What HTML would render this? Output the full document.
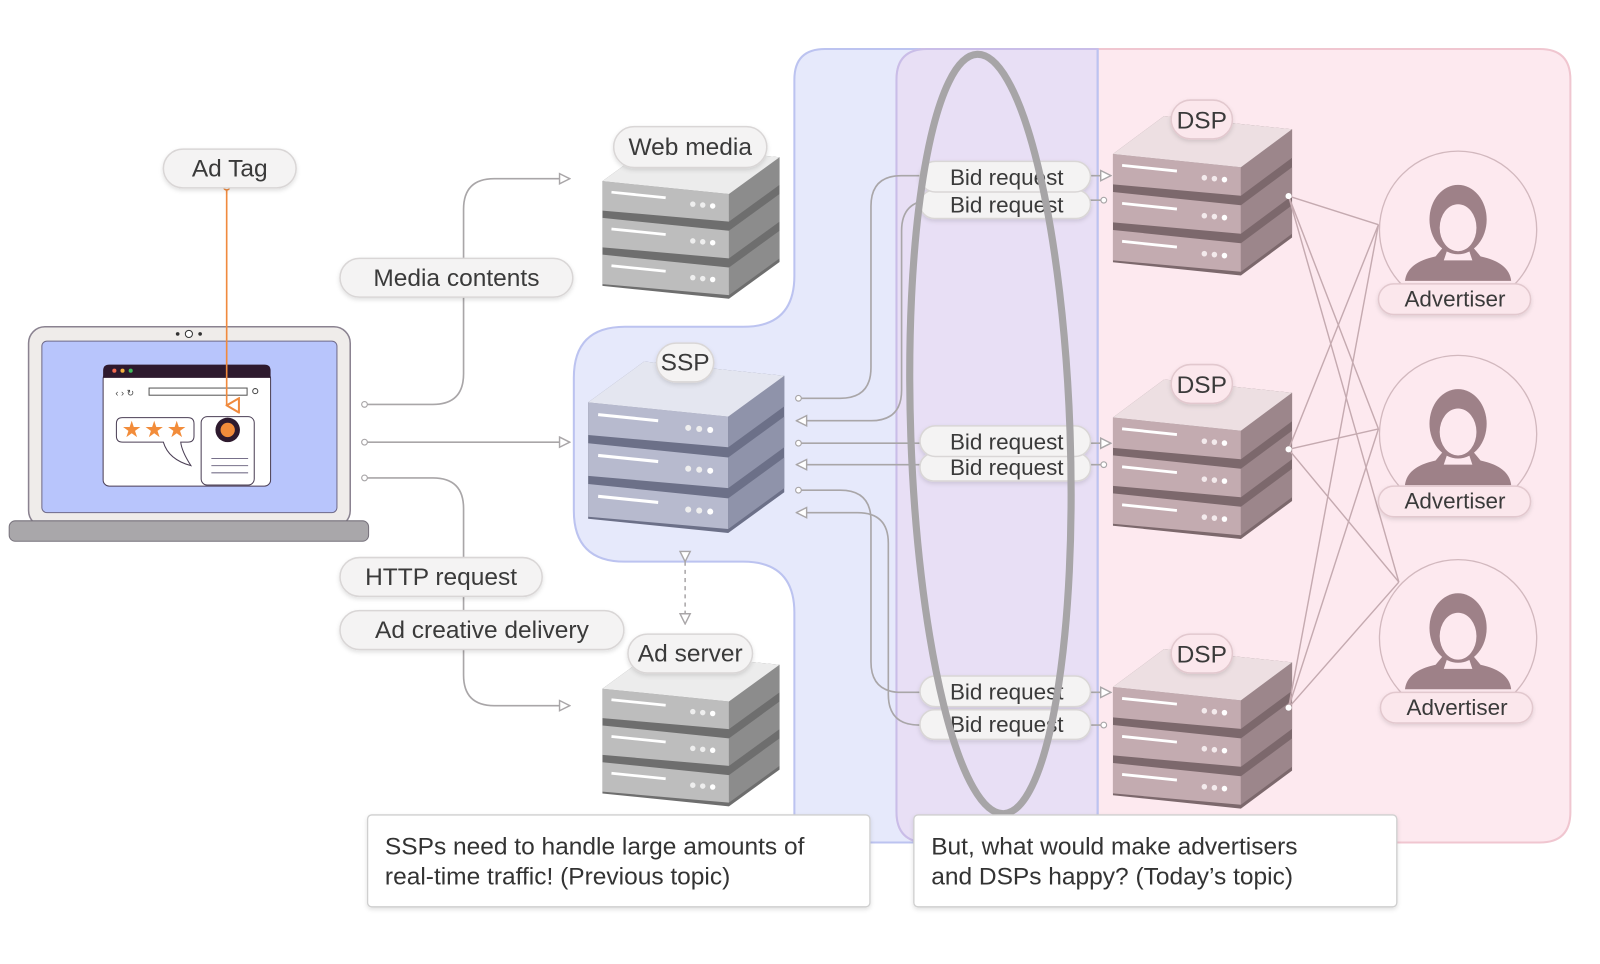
<!DOCTYPE html>
<html><head><meta charset="utf-8"><style>
html,body{margin:0;padding:0;background:#fff;}
svg{display:block;font-family:"Liberation Sans",sans-serif;}
.pl{fill:#f4f3f3;stroke:#d9d6d6;stroke-width:1.5;}
.lb{font-size:24px;fill:#3a3a3a;text-anchor:middle;}
.bl{font-size:22px;fill:#3a3a3a;text-anchor:middle;}
.cn{fill:none;stroke:#a9a6a8;stroke-width:1.6;}
.cp{fill:none;stroke:#c5aab0;stroke-width:1.4;}
</style></head><body>
<svg width="1600" height="964" viewBox="0 0 1567 944" preserveAspectRatio="none" xmlns="http://www.w3.org/2000/svg">
<defs>
<marker id="ar" viewBox="0 0 12 12" refX="11" refY="6" markerWidth="12" markerHeight="12" markerUnits="userSpaceOnUse" orient="auto"><path d="M1,1 L11,6 L1,11 Z" fill="#fff" stroke="#a9a6a8" stroke-width="1.4"/></marker>
<marker id="ci" viewBox="0 0 10 10" refX="5" refY="5" markerWidth="8" markerHeight="8" markerUnits="userSpaceOnUse"><circle cx="5" cy="5" r="3.5" fill="#fff" stroke="#a9a6a8" stroke-width="1.4"/></marker>
<marker id="ao" viewBox="0 0 16 14" refX="8" refY="13" markerWidth="16" markerHeight="14" markerUnits="userSpaceOnUse" orient="auto-start-reverse"><path d="M1,1 L15,1 L8,13 Z" fill="none" stroke="#f08a3e" stroke-width="2"/></marker>
<filter id="sh" x="-10%" y="-20%" width="120%" height="150%"><feDropShadow dx="0" dy="2" stdDeviation="2" flood-color="#000" flood-opacity="0.12"/></filter>
<g id="srvG">
<polygon points="0,46 56,6 196,20 196,134 140,174 0,160" fill="#6e6e6e"/>
<g id="uG0"><polygon points="0,46 140,60 140,90 0,78" fill="#bdbdbd"/><polygon points="140,60 196,20 196,50 140,90" fill="#8c8c8c"/><line x1="10" y1="58" x2="70" y2="64" stroke="#fff" stroke-width="3"/><circle cx="100" cy="71" r="3" fill="#eee"/><circle cx="111" cy="72" r="3" fill="#eee"/><circle cx="122" cy="73" r="3" fill="#fff"/></g>
<use href="#uG0" y="40"/><use href="#uG0" y="80"/>
<polygon points="0,46 56,6 196,20 140,60" fill="#ececec"/>
</g>
<g id="srvB">
<polygon points="0,46 56,6 196,20 196,134 140,174 0,160" fill="#6c7088"/>
<g id="uB0"><polygon points="0,46 140,60 140,90 0,78" fill="#b7bace"/><polygon points="140,60 196,20 196,50 140,90" fill="#8f93aa"/><line x1="10" y1="58" x2="70" y2="64" stroke="#fff" stroke-width="3"/><circle cx="100" cy="71" r="3" fill="#eee"/><circle cx="111" cy="72" r="3" fill="#eee"/><circle cx="122" cy="73" r="3" fill="#fff"/></g>
<use href="#uB0" y="40"/><use href="#uB0" y="80"/>
<polygon points="0,46 56,6 196,20 140,60" fill="#e4e6f0"/>
</g>
<g id="srvP">
<polygon points="0,46 56,6 196,20 196,134 140,174 0,160" fill="#7c686c"/>
<g id="uP0"><polygon points="0,46 140,60 140,90 0,78" fill="#c3abb0"/><polygon points="140,60 196,20 196,50 140,90" fill="#9c868b"/><line x1="10" y1="58" x2="70" y2="64" stroke="#fff" stroke-width="3"/><circle cx="100" cy="71" r="3" fill="#f3eaec"/><circle cx="111" cy="72" r="3" fill="#f3eaec"/><circle cx="122" cy="73" r="3" fill="#fff"/></g>
<use href="#uP0" y="40"/><use href="#uP0" y="80"/>
<polygon points="0,46 56,6 196,20 140,60" fill="#eddfe2"/>
</g>
<g id="av">
<circle cx="0" cy="0" r="77" fill="none" stroke="#d2b8be" stroke-width="1.3"/>
<path d="M-52,50 Q-50,32 -22,26 L-12,14 L12,14 L22,26 Q50,32 52,50 Z" fill="#9e8188"/>
<path d="M-10,18 H10 L14,30 H-14 Z" fill="#fde9ef"/>
<ellipse cx="0" cy="-10" rx="28" ry="34" fill="#9e8188"/>
<ellipse cx="0" cy="-2" rx="18" ry="23" fill="#fde9ef"/>
</g>
</defs>

<path d="M778,78 Q778,48 808,48 H1075 V825 H778 V600 Q778,550 728,550 H612 Q562,550 562,500 V370 Q562,320 612,320 H728 Q778,320 778,270 Z" fill="#e6e9fb" stroke="#bcc3f0" stroke-width="2"/>
<path d="M908,48 H1508 Q1538,48 1538,78 V795 Q1538,825 1508,825 H908 Q878,825 878,795 V78 Q878,48 908,48 Z" fill="#fde9ef" stroke="#f0c6d0" stroke-width="2"/>
<path d="M908,48 H1075 V825 H908 Q878,825 878,795 V78 Q878,48 908,48 Z" fill="#e8dff5" stroke="#c9bde8" stroke-width="2"/>
<line x1="1075" y1="48" x2="1075" y2="825" stroke="#bcc3f0" stroke-width="2"/>

<rect x="28" y="320" width="315" height="196" rx="16" fill="#efecea" stroke="#8a8290" stroke-width="1.5"/>
<rect x="41" y="334" width="289" height="168" rx="5" fill="#b8c5fc" stroke="#6f6a88" stroke-width="1"/>
<rect x="9" y="510" width="352" height="20" rx="6" fill="#a9a7aa" stroke="#77727c" stroke-width="1"/>
<circle cx="185" cy="327" r="3.5" fill="#fff" stroke="#333" stroke-width="1"/><circle cx="174" cy="327" r="1.8" fill="#333"/><circle cx="196" cy="327" r="1.8" fill="#333"/>
<rect x="101" y="365" width="164" height="111" rx="6" fill="#fff" stroke="#4b3f55" stroke-width="1"/>
<path d="M107,357 H259 Q265,357 265,363 V370 H101 V363 Q101,357 107,357 Z" fill="#2e1a2e"/>
<circle cx="112" cy="363" r="2" fill="#f26a4f"/><circle cx="120" cy="363" r="2" fill="#f4b13f"/><circle cx="128" cy="363" r="2" fill="#3fbb5a"/>
<text x="113" y="388" font-size="9" fill="#444">‹ › ↻</text>
<rect x="146" y="380" width="96" height="7" fill="none" stroke="#555" stroke-width="1"/>
<circle cx="250" cy="383" r="2.5" fill="none" stroke="#444" stroke-width="1"/>
<path d="M120,409 H184 Q190,409 190,415 V427 Q190,433 184,433 H177 Q178,442 187,456 Q165,450 160,433 H120 Q114,433 114,427 V415 Q114,409 120,409 Z" fill="#fff" stroke="#4b3f55" stroke-width="1"/>
<text x="129" y="428" font-size="22" fill="#f28c3a" text-anchor="middle">★</text><text x="151" y="428" font-size="22" fill="#f28c3a" text-anchor="middle">★</text><text x="173" y="428" font-size="22" fill="#f28c3a" text-anchor="middle">★</text>
<rect x="197" y="408" width="52" height="67" rx="6" fill="#fff" stroke="#4b3f55" stroke-width="1"/>
<circle cx="223" cy="421" r="12" fill="#2e1a2e"/><circle cx="223" cy="421" r="7" fill="#f28c3a"/>
<path d="M207,449 H243 M207,456 H243 M207,463 H243" stroke="#77708a" stroke-width="1"/>
<line x1="222" y1="183" x2="222" y2="397" stroke="#f08a3e" stroke-width="1.6" marker-end="url(#ao)"/>
<circle cx="222" cy="183" r="3" fill="#fff" stroke="#f08a3e" stroke-width="1.5"/>

<path class="cn" d="M357,396 H424 Q454,396 454,366 V205 Q454,175 484,175 H558" marker-start="url(#ci)" marker-end="url(#ar)"/>
<path class="cn" d="M357,433 H558" marker-start="url(#ci)" marker-end="url(#ar)"/>
<path class="cn" d="M357,468 H424 Q454,468 454,498 V661 Q454,691 484,691 H558" marker-start="url(#ci)" marker-end="url(#ar)"/>
<line x1="671" y1="550" x2="671" y2="611" stroke="#a9a6a8" stroke-width="1.5" stroke-dasharray="4,4" marker-start="url(#ar)" marker-end="url(#ar)"/>

<g filter="url(#sh)">
<rect class="pl" x="160" y="146" width="130" height="38" rx="19"/>
<rect class="pl" x="333" y="253" width="228" height="38" rx="19"/>
<rect class="pl" x="333" y="546" width="198" height="38" rx="19"/>
<rect class="pl" x="333" y="598" width="278" height="38" rx="19"/>
</g>
<text class="lb" x="225" y="173">Ad Tag</text>
<text class="lb" x="447" y="280">Media contents</text>
<text class="lb" x="432" y="573">HTTP request</text>
<text class="lb" x="472" y="625">Ad creative delivery</text>

<use href="#srvG" transform="translate(590,136) scale(0.885,0.9)"/>
<use href="#srvB" transform="translate(576,348) scale(0.98,1.0)"/>
<use href="#srvG" transform="translate(590,633) scale(0.885,0.9)"/>
<use href="#srvP" transform="translate(1090,108) scale(0.895,0.93)"/>
<use href="#srvP" transform="translate(1090,366) scale(0.895,0.93)"/>
<use href="#srvP" transform="translate(1090,630) scale(0.895,0.93)"/>

<g filter="url(#sh)">
<rect class="pl" x="601" y="124" width="150" height="40" rx="20"/>
<rect class="pl" x="643" y="336" width="56" height="38" rx="19"/>
<rect class="pl" x="615" y="621" width="122" height="38" rx="19"/>
<rect x="1147" y="98" width="60" height="38" rx="19" fill="#fbe7ec" stroke="#e2c8ce" stroke-width="1.5"/>
<rect x="1147" y="357" width="60" height="38" rx="19" fill="#fbe7ec" stroke="#e2c8ce" stroke-width="1.5"/>
<rect x="1147" y="621" width="60" height="38" rx="19" fill="#fbe7ec" stroke="#e2c8ce" stroke-width="1.5"/>
</g>
<text class="lb" x="676" y="152">Web media</text>
<text class="lb" x="671" y="363">SSP</text>
<text class="lb" x="676" y="648">Ad server</text>
<text class="lb" x="1177" y="126">DSP</text>
<text class="lb" x="1177" y="385">DSP</text>
<text class="lb" x="1177" y="649">DSP</text>

<path class="cn" d="M782,390 H823 Q853,390 853,360 V202 Q853,172 883,172 H1088" marker-start="url(#ci)" marker-end="url(#ar)"/>
<path class="cn" d="M1081,196 H913 Q883,196 883,226 V382 Q883,412 853,412 H780" marker-start="url(#ci)" marker-end="url(#ar)"/>
<path class="cn" d="M782,434 H1088" marker-start="url(#ci)" marker-end="url(#ar)"/>
<path class="cn" d="M1081,455 H780" marker-start="url(#ci)" marker-end="url(#ar)"/>
<path class="cn" d="M782,480 H823 Q853,480 853,510 V648 Q853,678 883,678 H1088" marker-start="url(#ci)" marker-end="url(#ar)"/>
<path class="cn" d="M1081,710 H900 Q870,710 870,680 V532 Q870,502 840,502 H780" marker-start="url(#ci)" marker-end="url(#ar)"/>

<g filter="url(#sh)">
<rect class="pl" x="901" y="186" width="167" height="28" rx="14"/>
<rect class="pl" x="901" y="158" width="167" height="30" rx="15"/>
<rect class="pl" x="901" y="444" width="167" height="27" rx="13"/>
<rect class="pl" x="901" y="417" width="167" height="30" rx="15"/>
<rect class="pl" x="901" y="695" width="167" height="29" rx="14"/>
<rect class="pl" x="901" y="662" width="167" height="30" rx="15"/>
</g>
<text class="bl" x="986" y="181">Bid request</text>
<text class="bl" x="986" y="208">Bid request</text>
<text class="bl" x="986" y="440">Bid request</text>
<text class="bl" x="986" y="465">Bid request</text>
<text class="bl" x="986" y="685">Bid request</text>
<text class="bl" x="986" y="717">Bid request</text>

<ellipse cx="970" cy="425" rx="78" ry="372" fill="none" stroke="#a7a5a7" stroke-width="7" transform="rotate(-2 970 425)"/>

<g class="cp">
<path d="M1262,192 L1350,220 M1262,192 L1350,420 M1262,192 L1370,570"/>
<path d="M1262,440 L1350,220 M1262,440 L1350,420 M1262,440 L1370,570"/>
<path d="M1262,693 L1350,220 M1262,693 L1350,420 M1262,693 L1370,570"/>
</g>
<circle cx="1262" cy="192" r="3" fill="#fff"/><circle cx="1262" cy="440" r="3" fill="#fff"/><circle cx="1262" cy="693" r="3" fill="#fff"/>

<use href="#av" transform="translate(1428,225)"/>
<use href="#av" transform="translate(1428,425)"/>
<use href="#av" transform="translate(1428,625)"/>
<g filter="url(#sh)">
<rect x="1350" y="278" width="149" height="30" rx="15" fill="#fbe7ec" stroke="#e2c8ce" stroke-width="1.5"/>
<rect x="1350" y="476" width="149" height="30" rx="15" fill="#fbe7ec" stroke="#e2c8ce" stroke-width="1.5"/>
<rect x="1352" y="678" width="149" height="30" rx="15" fill="#fbe7ec" stroke="#e2c8ce" stroke-width="1.5"/>
</g>
<text class="bl" x="1425" y="300">Advertiser</text>
<text class="bl" x="1425" y="498">Advertiser</text>
<text class="bl" x="1427" y="700">Advertiser</text>

<g filter="url(#sh)">
<rect x="360" y="798" width="492" height="90" rx="4" fill="#fff" stroke="#cfcfcf" stroke-width="1.3"/>
<rect x="895" y="798" width="473" height="90" rx="4" fill="#fff" stroke="#cfcfcf" stroke-width="1.3"/>
</g>
<text x="377" y="837" font-size="24" fill="#333">SSPs need to handle large amounts of</text>
<text x="377" y="866" font-size="24" fill="#333">real-time traffic! (Previous topic)</text>
<text x="912" y="837" font-size="24" fill="#333">But, what would make advertisers</text>
<text x="912" y="866" font-size="24" fill="#333">and DSPs happy? (Today’s topic)</text>
</svg>
</body></html>
